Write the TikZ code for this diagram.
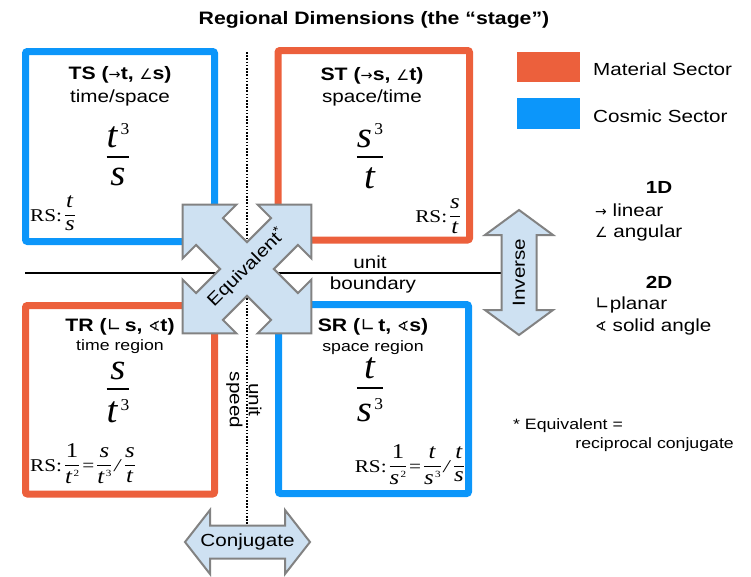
\documentclass[tikz,border=0pt]{standalone}
\usepackage{fontspec}
\usepackage{graphicx}
\setmainfont{Liberation Sans}[FakeStretch=1.18]
\newfontfamily\serf{Liberation Serif}[FakeStretch=1.18]
\newfontfamily\serfn{Liberation Serif}[FakeStretch=1.05]
\newfontfamily\symf{DejaVu Sans}
\definecolor{matred}{RGB}{236,96,60}
\definecolor{cosblue}{RGB}{12,150,250}
\definecolor{arrfill}{RGB}{206,225,242}
\definecolor{arrdraw}{RGB}{130,130,130}
\newcommand{\BFR}[2]{\raisebox{.27em}{\vtop{\offinterlineskip\halign{\hfil##\hfil\cr#1\cr\noalign{\kern.24em\hrule height .05em\kern.26em}#2\cr}}}}
\newcommand{\SFR}[2]{{\fontsize{21}{21}\selectfont\raisebox{.64em}{\vtop{\offinterlineskip\halign{\hfil##\hfil\cr#1\cr\noalign{\kern.36em\hrule height .055em\kern.2em}#2\cr}}}}}
\newcommand{\pw}[1]{\kern.06em\raisebox{.33em}{\scalebox{.45}{#1}}}
\newcommand{\arr}{{\symf\mdseries\scalebox{.8}{→}}}
\newcommand{\ang}{{\symf\mdseries\scalebox{.8}{∠}}}
\newcommand{\pla}{{\symf\mdseries ∟}}
\newcommand{\sol}{{\symf\mdseries\scalebox{.8}{∢}}}
\begin{document}
\begin{tikzpicture}[x=1pt,y=-1pt,
  box/.style={line width=7pt, rounded corners=2pt, inner sep=0pt},
  hdr/.style={font=\bfseries\fontsize{18}{20}\selectfont, inner sep=0pt},
  sub/.style={font=\fontsize{17.5}{20}\selectfont, inner sep=0pt},
  subsm/.style={font=\fontsize{15}{17}\selectfont, inner sep=0pt},
  bigfrac/.style={font=\serfn\fontsize{37}{40}\selectfont, anchor=base, inner sep=0pt},
  rs/.style={font=\serf\fontsize{18}{20}\selectfont, inner sep=0pt},
  fat/.style={fill=arrfill, draw=arrdraw, line width=2pt, line join=miter},
  lbl/.style={font=\fontsize{17.5}{20}\selectfont, inner sep=0pt},
  small/.style={font=\fontsize{15}{17}\selectfont, inner sep=0pt},
]
\useasboundingbox (0,0) rectangle (751,576);
% title
\node[font=\bfseries\fontsize{18}{20}\selectfont, inner sep=0pt] (title) at (374,20) {Regional Dimensions (the “stage”)};
% region boxes
\node[box, draw=cosblue, minimum width=189pt, minimum height=190pt] (TS) at (120,146.5) {};
\node[box, draw=matred, minimum width=191.5pt, minimum height=189.5pt] (ST) at (373.75,145.25) {};
\node[box, draw=matred, minimum width=189pt, minimum height=188.5pt] (TR) at (120,399.75) {};
\node[box, draw=cosblue, minimum width=190pt, minimum height=189pt] (SR) at (373.5,399) {};
% lines
\coordinate (dtop) at (246.5,52);
\coordinate (dbot) at (246.5,530);
\draw[line width=2pt, dash pattern=on 1.6pt off 1.6pt] (dtop) -- (dbot);
\coordinate (hleft) at (25,273);
\coordinate (hright) at (503,273);
\draw[line width=2pt] (hleft) -- (hright);
% TS
\node[hdr] (tsh) at (120,75) {TS (\arr t, \ang s)};
\node[sub] (tss) at (120,98) {time/space};
\node[bigfrac] (tsf) at (118,157) {\BFR{\textit{t}\pw{3}}{\textit{s}}};
\node[rs, anchor=base west] (tsrs) at (30,221) {RS:\,\SFR{\textit{t}}{\textit{s}}};
% ST
\node[hdr] (sth) at (372,76) {ST (\arr s, \ang t)};
\node[sub] (sts) at (372,98) {space/time};
\node[bigfrac] (stf) at (370,157) {\BFR{\textit{s}\pw{3}}{\textit{t}}};
\node[rs, anchor=base east] (strs) at (460,222) {RS:\,\SFR{\textit{s}}{\textit{t}}};
% TR
\node[hdr] (trh) at (120,327) {TR (\pla\,s, \sol t)};
\node[subsm] (trs) at (120,347) {time region};
\node[bigfrac] (trf) at (118,389) {\BFR{\textit{s}}{\textit{t}\pw{3}}};
\node[rs, anchor=base west] (trrs) at (30,471) {RS:\,\SFR{1}{\textit{t}\pw{2}}\,=\,\SFR{\textit{s}}{\textit{t}\pw{3}}\,\textit{/}\,\SFR{\textit{s}}{\textit{t}}};
% SR
\node[hdr] (srh) at (373,327) {SR (\pla\,t, \sol s)};
\node[subsm] (srs) at (373,348) {space region};
\node[bigfrac] (srf) at (370,388) {\BFR{\textit{t}}{\textit{s}\pw{3}}};
\node[rs, anchor=base east] (srrs) at (464,472) {RS:\,\SFR{1}{\textit{s}\pw{2}}\,=\,\SFR{\textit{t}}{\textit{s}\pw{3}}\,\textit{/}\,\SFR{\textit{t}}{\textit{s}}};
% line labels
\node[lbl] (unit1) at (370,262) {unit};
\node[lbl] (bound) at (373,285) {boundary};
\node[lbl, rotate=-90, align=center] (uspeed) at (244,400) {unit\\[-1pt]speed};
% equivalent cross
\draw[fat, shift={(247,269)}, rotate=45]
  (53,19) -- (53,38) -- (91,0) -- (53,-38) -- (53,-19) -- (19,-19) -- (19,-53) -- (38,-53) -- (0,-91) -- (-38,-53) -- (-19,-53) -- (-19,-19)
  -- (-53,-19) -- (-53,-38) -- (-91,0) -- (-53,38) -- (-53,19) -- (-19,19) -- (-19,53) -- (-38,53) -- (0,91) -- (38,53) -- (19,53) -- (19,19) -- cycle;
\node[lbl, rotate=45] (equiv) at (246.5,267.5) {Equivalent\textsuperscript{*}};
% inverse arrow
\draw[fat] (519,210) -- (553,235) -- (536.5,235) -- (536.5,310) -- (553,310) -- (519,335) -- (485,310) -- (501.5,310) -- (501.5,235) -- (485,235) -- cycle;
\node[lbl, rotate=90] (inv) at (519,272.5) {Inverse};
% conjugate arrow
\draw[fat] (185,542) -- (210,510) -- (210,525.5) -- (285,525.5) -- (285,510) -- (310,542) -- (285,574) -- (285,558.5) -- (210,558.5) -- (210,574) -- cycle;
\node[lbl] (conj) at (247.5,542) {Conjugate};
% legend
\node[fill=matred, minimum width=63pt, minimum height=30pt, inner sep=0pt] (legm) at (548.5,67) {};
\node[fill=cosblue, minimum width=63pt, minimum height=31pt, inner sep=0pt] (legc) at (548.5,113.5) {};
\node[lbl, anchor=west] (legmt) at (593,69) {Material Sector};
\node[lbl, anchor=west] (legct) at (593,116) {Cosmic Sector};
% dimension key
\node[font=\bfseries\fontsize{17.5}{20}\selectfont, inner sep=0pt] (oneD) at (659,187) {1D};
\node[lbl, anchor=west] (lin) at (595,210) {\arr\ linear};
\node[lbl, anchor=west] (angu) at (595,233) {\ang\ angular};
\node[font=\bfseries\fontsize{17.5}{20}\selectfont, inner sep=0pt] (twoD) at (659,282) {2D};
\node[lbl, anchor=west] (plan) at (595,305) {\pla planar};
\node[lbl, anchor=west] (solid) at (595,327) {\sol\ solid angle};
% footnote
\node[small, anchor=west] (fn1) at (513,426) {* Equivalent =};
\node[small, anchor=east] (fn2) at (734,445) {reciprocal conjugate};
\end{tikzpicture}
\end{document}
